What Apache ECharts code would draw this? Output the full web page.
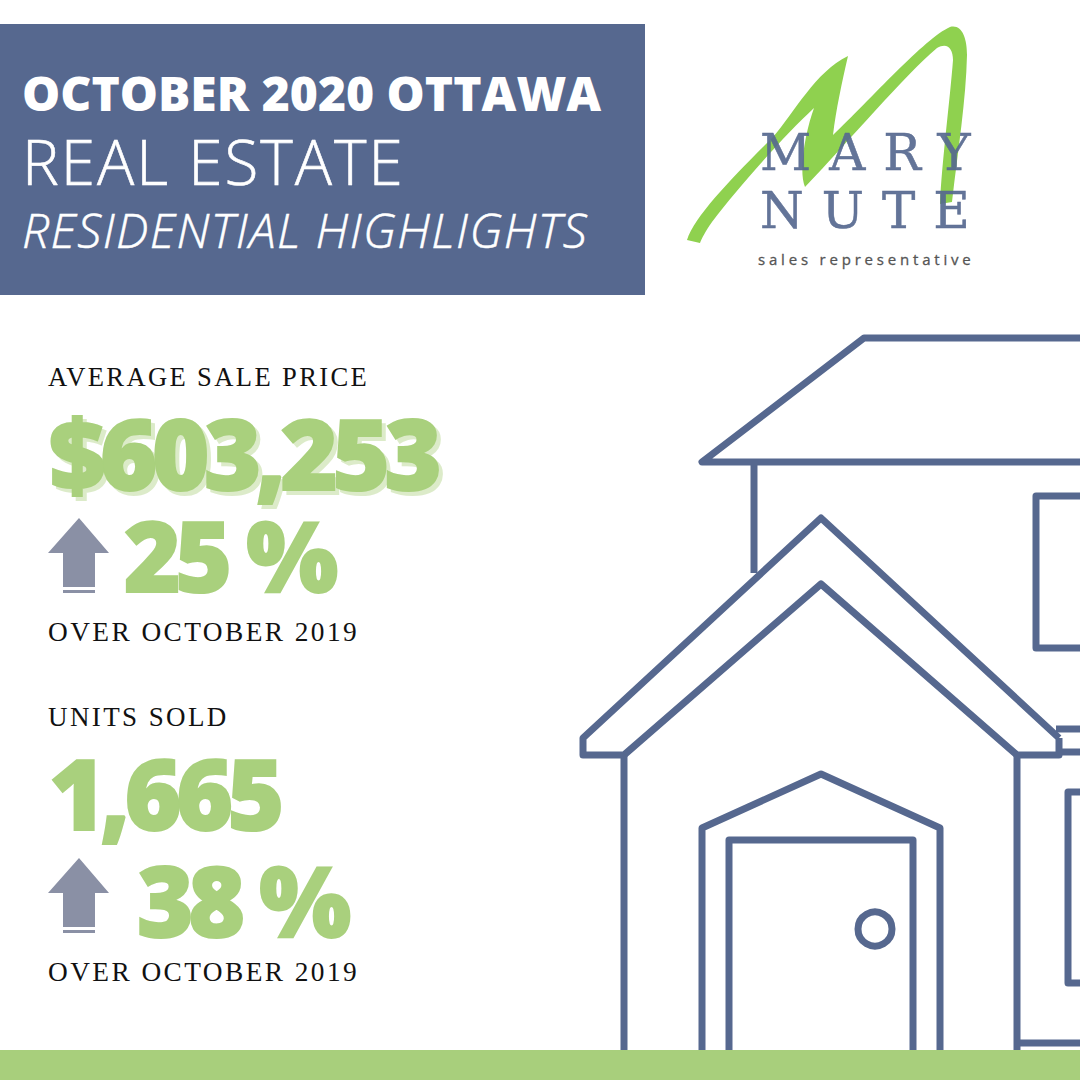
<!DOCTYPE html>
<html>
<head>
<meta charset="utf-8">
<title>October 2020 Ottawa Real Estate</title>
<script src="https://cdn.jsdelivr.net/npm/echarts@6/dist/echarts.min.js"></script>
<style>
html,body{margin:0;padding:0;background:#fff;}
#main{width:1080px;height:1080px;}
text[style*="Liberation Serif"]{letter-spacing:2.4px;}
text[style*="62px"]{letter-spacing:2px;}
text[style*="italic"]{letter-spacing:1.4px;}
text[style*="DejaVu Serif"]{letter-spacing:18px;}
text[style*="15px"]{letter-spacing:3.8px;}
text[style*="98px"],text[style*="97px"]{letter-spacing:-5.5px;}
text[style*="98px"]{filter:drop-shadow(4px 4px 0 #dcebc9);}
</style>
</head>
<body>
<div id="main"></div>
<script>
var headline = ['OCTOBER 2020 OTTAWA', 'REAL ESTATE', 'RESIDENTIAL HIGHLIGHTS'];
var statLabels = ['AVERAGE SALE PRICE', 'UNITS SOLD'];
var statValues = ['$603,253', '1,665'];
var statChanges = ['25 %', '38 %'];
var comparison = 'OVER OCTOBER 2019';
var logoLines = ['MARY', 'NUTE', 'sales representative'];

var BLUE = '#56688f', GREEN = '#a9d07d', ARROW = '#8a90a5';

// logo brush stroke
var swooshPath = 'M687 240 C695 215 735 175 773 137 C795 112 815 72 848 56 C842 82 836 110 833 135 C870 100 925 38 950 27 C962 24 967 38 967 55 C966 100 958 150 952 202 L940 204 C942 160 950 100 953 60 C953 48 947 42 937 48 C905 75 850 140 805 187 C798 170 806 130 814 108 C785 135 740 185 712 222 C705 232 702 238 700 243 Z';
echarts.graphic.registerShape('swoosh', echarts.graphic.extendPath(swooshPath));

var chart = echarts.init(document.getElementById('main'), null, {renderer: 'svg'});

function label(x, y, text, font, fill, extra, scaleX) {
	var style = {x: x, y: y, text: text, font: font, fill: fill, textAlign: 'left', textVerticalAlign: 'middle'};
	for (var k in extra) style[k] = extra[k];
	var el = {type: 'text', style: style, z: 5};
	if (scaleX) {
		el.scaleX = scaleX;
		el.originX = x;
		el.originY = y;
	}
	return el;
}
function line(points, width) {
	return {type: 'polyline', shape: {points: points}, style: {stroke: BLUE, lineWidth: width || 7, fill: null, lineJoin: 'round'}, z: 2};
}
var heavy = {stroke: GREEN, lineWidth: 2, lineJoin: 'round'};

var els = [
	{type: 'rect', shape: {x: 0, y: 24, width: 645, height: 271}, style: {fill: BLUE}},
	{type: 'rect', shape: {x: 0, y: 1050, width: 1080, height: 30}, style: {fill: '#a8cf7c'}, z: 4},
	label(22, 92, headline[0], '800 48px "Open Sans"', '#fff'),
	label(22, 161, headline[1], '300 62px "Open Sans"', '#fff', {stroke: '#fff', lineWidth: 0.6}),
	label(22, 229, headline[2], 'italic 300 48px "Open Sans"', '#fff', {stroke: '#fff', lineWidth: 0.5}),

	// logo
	{type: 'swoosh', style: {fill: '#8fd14f'}, z: 2},
	label(760, 153, logoLines[0], '50px "DejaVu Serif"', BLUE, {opacity: 0.92, stroke: BLUE, lineWidth: 0.5}),
	label(760, 211, logoLines[1], '50px "DejaVu Serif"', BLUE, {opacity: 0.92, stroke: BLUE, lineWidth: 0.5}),
	label(758, 259, logoLines[2], '15px "Open Sans"', '#555', {stroke: '#555', lineWidth: 0.3}),

	// house
	line([[1085, 338], [864, 338], [702, 462], [1085, 462]]),
	line([[754, 462], [754, 573]]),
	line([[1085, 496], [1036, 496], [1036, 648], [1085, 648]]),
	line([[1059, 738], [821, 518], [583, 738], [583, 755], [624, 755], [821, 584], [1017, 755], [1059, 755], [1059, 738]]),
	line([[624, 755], [624, 1055]]),
	line([[1017, 755], [1017, 1055]]),
	line([[702, 1055], [702, 828], [821, 774], [940, 828], [940, 1055]]),
	line([[729, 1055], [729, 840], [913, 840], [913, 1055]]),
	{type: 'circle', shape: {cx: 875, cy: 929, r: 17}, style: {stroke: BLUE, lineWidth: 7, fill: null}, z: 2},
	line([[1056, 729], [1085, 729]]),
	line([[1062, 752], [1085, 752]]),
	line([[1085, 792], [1068, 792], [1068, 983], [1085, 983]]),
	line([[1020, 1043], [1085, 1043]])
];

var rowTop = [0, 340];
var changeX = [124, 137];
var changeY = [553.5, 898.5];
var labelStretch = [0.985, 1];
statLabels.forEach(function (name, i) {
	var dy = rowTop[i];
	els.push(label(48, 377 + dy, name, '27px "Liberation Serif"', '#111', null, labelStretch[i]));
	els.push(label(49, 452 + dy, statValues[i], (i === 0 ? '800 98px' : '800 97px') + ' "Open Sans"', GREEN, heavy));
	els.push(label(changeX[i], changeY[i], statChanges[i], '800 97px "Open Sans"', GREEN, heavy));
	els.push({type: 'polygon', shape: {points: [[79, 518 + dy], [109, 553 + dy], [95, 553 + dy], [95, 587 + dy], [63, 587 + dy], [63, 553 + dy], [48, 553 + dy]]}, style: {fill: ARROW}});
	els.push({type: 'rect', shape: {x: 63, y: 590 + dy, width: 32, height: 3}, style: {fill: ARROW}});
	els.push(label(48, 632 + dy, comparison, '27px "Liberation Serif"', '#111', null, 1.013));
});

chart.setOption({animation: false, backgroundColor: '#fff', graphic: {elements: els}});
</script>
</body>
</html>
